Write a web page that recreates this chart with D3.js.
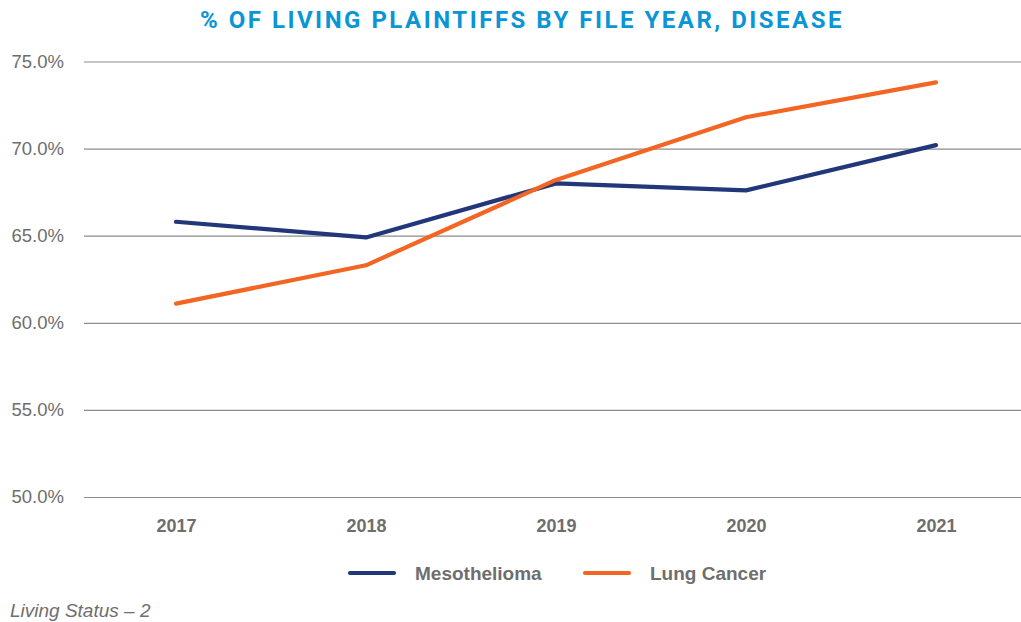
<!DOCTYPE html>
<html><head><meta charset="utf-8">
<script src="https://cdn.jsdelivr.net/npm/d3@7"></script>
<style>body{margin:0;background:#fff;}svg{display:block;}</style>
</head><body>
<svg id="chart" width="1021" height="622"></svg>
<script>
const years = ["2017","2018","2019","2020","2021"];
const mesothelioma = [65.8, 64.9, 68.0, 67.6, 70.2];
const lungCancer = [61.1, 63.3, 68.2, 71.8, 73.8];
const yTicks = [50, 55, 60, 65, 70, 75];
const seriesNames = ["Mesothelioma", "Lung Cancer"];
const seriesColors = ["#22377a", "#f26522"];

const svg = d3.select("#chart");
const x = d3.scalePoint().domain(years).range([176, 936]);
const y = d3.scaleLinear().domain([50, 75]).range([497, 61.5]);

svg.append("text").attr("x", 522).attr("y", 28).attr("text-anchor", "middle")
  .attr("font-family", "Roboto, 'Liberation Sans', sans-serif").attr("font-weight", 700)
  .attr("font-size", 24).attr("letter-spacing", 2.5).attr("fill", "#0a95d5")
  .text("% OF LIVING PLAINTIFFS BY FILE YEAR, DISEASE");

const yAxis = d3.axisLeft(y).tickValues(yTicks).tickSize(-(1021-84)).tickPadding(20)
  .tickFormat(d => d.toFixed(1) + "%");
const ga = svg.append("g").attr("transform", "translate(84,0)").call(yAxis);
ga.select(".domain").remove();
ga.selectAll(".tick line").attr("stroke", "#8c8c8c").attr("stroke-width", 1.2);
ga.selectAll(".tick text").attr("font-family", "'Liberation Sans', Arial, sans-serif")
  .attr("font-size", 18.5).attr("fill", "#6e6e6e");

const xAxis = d3.axisBottom(x).tickSize(0).tickPadding(0);
const gx = svg.append("g").attr("transform", "translate(0,519)").call(xAxis);
gx.select(".domain").remove();
gx.selectAll(".tick text").attr("font-family", "'Liberation Sans', Arial, sans-serif")
  .attr("font-size", 18).attr("font-weight", 700).attr("fill", "#6e6e6e").attr("dy", "0.71em");

const line = d3.line().x((d, i) => x(years[i])).y(d => y(d));
[mesothelioma, lungCancer].forEach((s, k) => {
  svg.append("path").datum(s).attr("d", line).attr("fill", "none")
    .attr("stroke", seriesColors[k]).attr("stroke-width", 4.2)
    .attr("stroke-linecap", "round").attr("stroke-linejoin", "round");
});

const legendX = [350, 585];
seriesNames.forEach((n, k) => {
  const g = svg.append("g").attr("transform", `translate(${legendX[k]},573)`);
  g.append("line").attr("x1", 0).attr("x2", 44).attr("stroke", seriesColors[k])
    .attr("stroke-width", 4.2).attr("stroke-linecap", "round");
  g.append("text").attr("x", 65).attr("y", 7).attr("font-family", "'Liberation Sans', Arial, sans-serif")
    .attr("font-size", 19).attr("font-weight", 700).attr("fill", "#6e6e6e").text(n);
});

svg.append("text").attr("x", 10).attr("y", 617).attr("font-family", "'Liberation Sans', Arial, sans-serif")
  .attr("font-size", 19).attr("font-style", "italic").attr("fill", "#6e6e6e").text("Living Status – 2");
</script>
</body></html>
